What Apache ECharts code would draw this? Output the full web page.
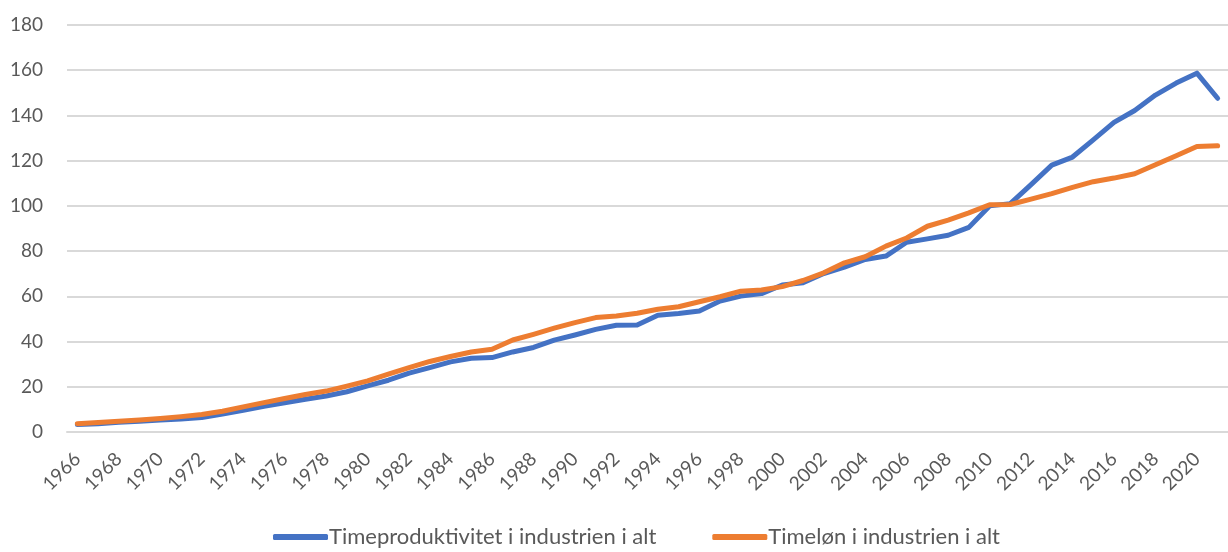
<!DOCTYPE html>
<html>
<head>
<meta charset="utf-8">
<script src="https://cdn.jsdelivr.net/npm/echarts@6/dist/echarts.min.js"></script>
<style>
  html, body { margin: 0; padding: 0; background: #fff; }
  #chart { width: 1228px; height: 552px; }
</style>
</head>
<body>
<div id="chart"></div>
<script>
var years = [];
for (var y = 1966; y <= 2021; y++) years.push(String(y));

var produktivitet = [
  3.3, 3.7, 4.3, 4.8, 5.3, 5.8, 6.4, 7.9, 9.6, 11.4,
  12.9, 14.5, 15.9, 17.8, 20.4, 22.9, 26, 28.5, 31, 32.6,
  32.9, 35.4, 37.4, 40.6, 42.9, 45.4, 47.2, 47.3, 51.6, 52.4,
  53.5, 57.9, 60.1, 61.2, 65, 66, 70.1, 72.9, 76.3, 77.8,
  83.9, 85.4, 87, 90.5, 100, 101, 109.4, 118, 121.6, 129.2,
  136.9, 142.2, 149, 154.3, 158.7, 147.6
];
var timeloen = [
  3.7, 4.2, 4.8, 5.3, 6, 6.8, 7.7, 9.2, 11.1, 13,
  14.8, 16.6, 18.1, 20.3, 22.6, 25.6, 28.5, 31.2, 33.4, 35.4,
  36.6, 40.7, 43.2, 45.9, 48.4, 50.6, 51.3, 52.5, 54.3, 55.4,
  57.6, 59.8, 62.3, 62.8, 64.3, 67, 70.4, 74.8, 77.5, 82.2,
  85.8, 91, 93.7, 96.9, 100.5, 100.6, 103, 105.4, 108.2, 110.7,
  112.3, 114.2, 118.2, 122.2, 126.3, 126.6
];
var seriesNames = ["Timeproduktivitet i industrien i alt", "Timeløn i industrien i alt"];

var chart = echarts.init(document.getElementById("chart"));
var font = "Lato, 'Open Sans', sans-serif";

chart.setOption({
  animation: false,
  color: ["#4472c4", "#ed7d31"],
  textStyle: { fontFamily: font },
  grid: { left: 67, right: -9, top: 25, bottom: 120, containLabel: false },
  legend: {
    top: 521,
    left: 268,
    itemWidth: 55,
    itemHeight: 6,
    itemGap: 56,
    icon: "roundRect",
    textStyle: { color: "#595959", fontSize: 22, fontFamily: font, padding: [0, 0, 0, -4] },
    data: seriesNames
  },
  xAxis: {
    type: "category",
    data: years,
    boundaryGap: true,
    axisLine: { lineStyle: { color: "#d9d9d9", width: 2 } },
    axisTick: { show: false },
    axisLabel: {
      interval: 1,
      rotate: 45,
      color: "#595959",
      fontSize: 19,
      fontFamily: font,
      margin: 24
    }
  },
  yAxis: {
    type: "value",
    min: 0,
    max: 180,
    interval: 20,
    axisLine: { show: false },
    axisTick: { show: false },
    splitLine: { lineStyle: { color: "#d9d9d9", width: 2 } },
    axisLabel: { color: "#595959", fontSize: 19, fontFamily: font, margin: 24 }
  },
  series: [
    {
      name: seriesNames[0],
      type: "line",
      data: produktivitet,
      symbol: "none",
      lineStyle: { width: 5, cap: "round", join: "round" }
    },
    {
      name: seriesNames[1],
      type: "line",
      data: timeloen,
      symbol: "none",
      lineStyle: { width: 5, cap: "round", join: "round" }
    }
  ]
});
window.onresize = function () { chart.resize(); };
</script>
</body>
</html>
